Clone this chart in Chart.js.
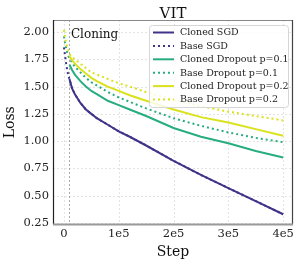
<!DOCTYPE html>
<html>
<head>
<meta charset="utf-8">
<script src="https://cdn.jsdelivr.net/npm/chart.js@4"></script>
<style>
html,body{margin:0;padding:0;background:#fff;}
#wrap{width:299px;height:263px;position:relative;}
</style>
</head>
<body>
<div id="wrap"><canvas id="c" width="299" height="263"></canvas></div>
<script>
// ---- data ----
const cloneSteps = [10000,15000,20000,30000,40000,50000,60000,80000,100000,120000,150000,200000,250000,300000,350000,400000];
const baseSteps = [0,2000,4000,6000,8000].concat(cloneSteps);

const clonedSGD = [1.57,1.48,1.43,1.35,1.29,1.25,1.21,1.15,1.09,1.04,0.96,0.82,0.69,0.57,0.45,0.33];
const baseSGD = [1.86,1.78,1.71,1.65,1.60,1.57,1.48,1.43,1.35,1.29,1.25,1.21,1.15,1.09,1.04,0.96,0.82,0.69,0.57,0.45,0.33];
const clonedDrop1 = [1.70,1.65,1.61,1.55,1.50,1.46,1.43,1.37,1.33,1.29,1.23,1.12,1.04,0.98,0.91,0.85];
const baseDrop1 = [1.96,1.90,1.85,1.81,1.78,1.76,1.72,1.68,1.63,1.58,1.54,1.51,1.45,1.40,1.36,1.30,1.21,1.14,1.08,1.03,0.99];
const clonedDrop2 = [1.78,1.74,1.71,1.66,1.62,1.58,1.55,1.50,1.46,1.42,1.37,1.29,1.22,1.17,1.11,1.05];
const baseDrop2 = [2.02,1.95,1.90,1.86,1.82,1.80,1.77,1.75,1.71,1.67,1.63,1.61,1.57,1.53,1.50,1.45,1.38,1.32,1.27,1.23,1.19];

const labels = ["Cloned SGD","Base SGD","Cloned Dropout p=0.1","Base Dropout p=0.1","Cloned Dropout p=0.2","Base Dropout p=0.2"];
const xTicks = [0,100000,200000,300000,400000];
const xTickLabels = ["0","1e5","2e5","3e5","4e5"];
const yTicks = [0.25,0.50,0.75,1.00,1.25,1.50,1.75,2.00];
const cloningStep = 10000;

const PURPLE = "#403389", GREEN = "#27ad80", YELLOW = "#d9e21b";
const colors = [PURPLE,PURPLE,GREEN,GREEN,YELLOW,YELLOW];
const dotted = [false,true,false,true,false,true];
const seriesX = [cloneSteps,baseSteps,cloneSteps,baseSteps,cloneSteps,baseSteps];
const seriesY = [clonedSGD,baseSGD,clonedDrop1,baseDrop1,clonedDrop2,baseDrop2];

const SERIF = "'DejaVu Serif', serif";
Chart.defaults.font.family = SERIF;
Chart.defaults.color = "#222";

const datasets = labels.map((lab,i)=>({
  label: lab,
  data: seriesX[i].map((x,j)=>({x:x,y:seriesY[i][j]})),
  borderColor: colors[i],
  backgroundColor: colors[i],
  borderWidth: 2,
  borderDash: dotted[i] ? [2,3] : [],
  borderCapStyle: 'butt',
  pointRadius: 0,
  tension: 0,
  fill: false,
  order: 10 - i
}));

const decor = {
  id: 'decor',
  beforeDatasetsDraw(chart){
    const {ctx, chartArea:a, scales:{x,y}} = chart;
    ctx.save();
    // dotted grid
    ctx.strokeStyle = "#e3e3e3";
    ctx.lineWidth = 1;
    ctx.setLineDash([2,2]);
    xTicks.forEach(v=>{
      const p = Math.round(x.getPixelForValue(v))+0.5;
      ctx.beginPath(); ctx.moveTo(p,a.top); ctx.lineTo(p,a.bottom); ctx.stroke();
    });
    yTicks.forEach(v=>{
      const p = Math.round(y.getPixelForValue(v))+0.5;
      ctx.beginPath(); ctx.moveTo(a.left,p); ctx.lineTo(a.right,p); ctx.stroke();
    });
    // cloning marker
    const px = x.getPixelForValue(cloningStep);
    ctx.strokeStyle = "#aaaaaa";
    ctx.beginPath(); ctx.moveTo(Math.round(px)+0.5,a.top); ctx.lineTo(Math.round(px)+0.5,a.bottom); ctx.stroke();
    ctx.setLineDash([]);
    ctx.fillStyle = "#111";
    ctx.font = "12px " + SERIF;
    ctx.textBaseline = "middle";
    ctx.textAlign = "left";
    ctx.fillText("Cloning", px + 1.5, 35);
    ctx.restore();
  },
  afterDatasetsDraw(chart){
    const {ctx, chartArea:a} = chart;
    ctx.save();
    // spines
    ctx.lineWidth = 1.2;
    ctx.strokeStyle = "#888";
    ctx.beginPath(); ctx.moveTo(a.left,a.top+0.5); ctx.lineTo(a.right,a.top+0.5); ctx.stroke();
    ctx.strokeStyle = "#444";
    ctx.beginPath(); ctx.moveTo(a.right-0.5,a.top); ctx.lineTo(a.right-0.5,a.bottom); ctx.stroke();
    ctx.strokeStyle = "#222";
    ctx.beginPath(); ctx.moveTo(a.left+0.5,a.top); ctx.lineTo(a.left+0.5,a.bottom); ctx.stroke();
    ctx.strokeStyle = "#999";
    ctx.lineWidth = 2;
    ctx.beginPath(); ctx.moveTo(a.left,a.bottom); ctx.lineTo(a.right,a.bottom); ctx.stroke();
    // title
    ctx.fillStyle = "#111";
    ctx.font = "15px " + SERIF;
    ctx.textAlign = "center";
    ctx.textBaseline = "alphabetic";
    ctx.fillText("VIT", (a.left+a.right)/2, 17.5);
    // legend
    const bx = 149.5, by = 25.5, bw = 139, bh = 82, r = 3;
    ctx.beginPath();
    ctx.moveTo(bx+r,by); ctx.lineTo(bx+bw-r,by); ctx.quadraticCurveTo(bx+bw,by,bx+bw,by+r);
    ctx.lineTo(bx+bw,by+bh-r); ctx.quadraticCurveTo(bx+bw,by+bh,bx+bw-r,by+bh);
    ctx.lineTo(bx+r,by+bh); ctx.quadraticCurveTo(bx,by+bh,bx,by+bh-r);
    ctx.lineTo(bx,by+r); ctx.quadraticCurveTo(bx,by,bx+r,by);
    ctx.closePath();
    ctx.fillStyle = "rgba(255,255,255,0.82)";
    ctx.fill();
    ctx.strokeStyle = "#d6d6d6";
    ctx.lineWidth = 1;
    ctx.stroke();
    ctx.font = "9.5px " + SERIF;
    ctx.textAlign = "left";
    ctx.textBaseline = "middle";
    chart.data.datasets.forEach((ds,i)=>{
      const yy = 32.5 + i*13.4;
      ctx.strokeStyle = ds.borderColor;
      ctx.lineWidth = 2;
      ctx.setLineDash(ds.borderDash);
      ctx.beginPath(); ctx.moveTo(153,yy); ctx.lineTo(174,yy); ctx.stroke();
      ctx.setLineDash([]);
      ctx.fillStyle = "#222";
      ctx.fillText(ds.label, 180, yy+0.5);
    });
    ctx.restore();
  }
};

new Chart(document.getElementById('c'), {
  type: 'line',
  data: { datasets },
  options: {
    responsive: false,
    animation: false,
    devicePixelRatio: 1,
    layout: { padding: { top: 20, right: 6, left: 0, bottom: 0 } },
    plugins: { legend: { display: false }, title: { display: false }, tooltip: { enabled: false } },
    scales: {
      x: {
        type: 'linear',
        min: -20000, max: 418000,
        afterFit(s){ s.height = 38.5; },
        afterBuildTicks(s){ s.ticks = xTicks.map(v=>({value:v})); },
        ticks: { font: { size: 11.5 }, padding: 3, maxRotation: 0, autoSkip: false,
          callback(v){ const k = xTicks.indexOf(v); return k>=0 ? xTickLabels[k] : ''; } },
        grid: { display: false, drawTicks: false },
        border: { display: false },
        title: { display: true, text: "Step", font: { size: 14 }, padding: { top: 0, bottom: 2 }, color: "#111" }
      },
      y: {
        type: 'linear',
        min: 0.236, max: 2.11,
        afterFit(s){ s.width = 53; },
        afterBuildTicks(s){ s.ticks = yTicks.map(v=>({value:v})); },
        ticks: { font: { size: 11.5 }, padding: 4, autoSkip: false,
          callback(v){ return Number(v).toFixed(2); } },
        grid: { display: false, drawTicks: false },
        border: { display: false },
        title: { display: true, text: "Loss", font: { size: 14 }, padding: { top: 2, bottom: 0 }, color: "#111" }
      }
    }
  },
  plugins: [decor]
});
</script>
</body>
</html>
